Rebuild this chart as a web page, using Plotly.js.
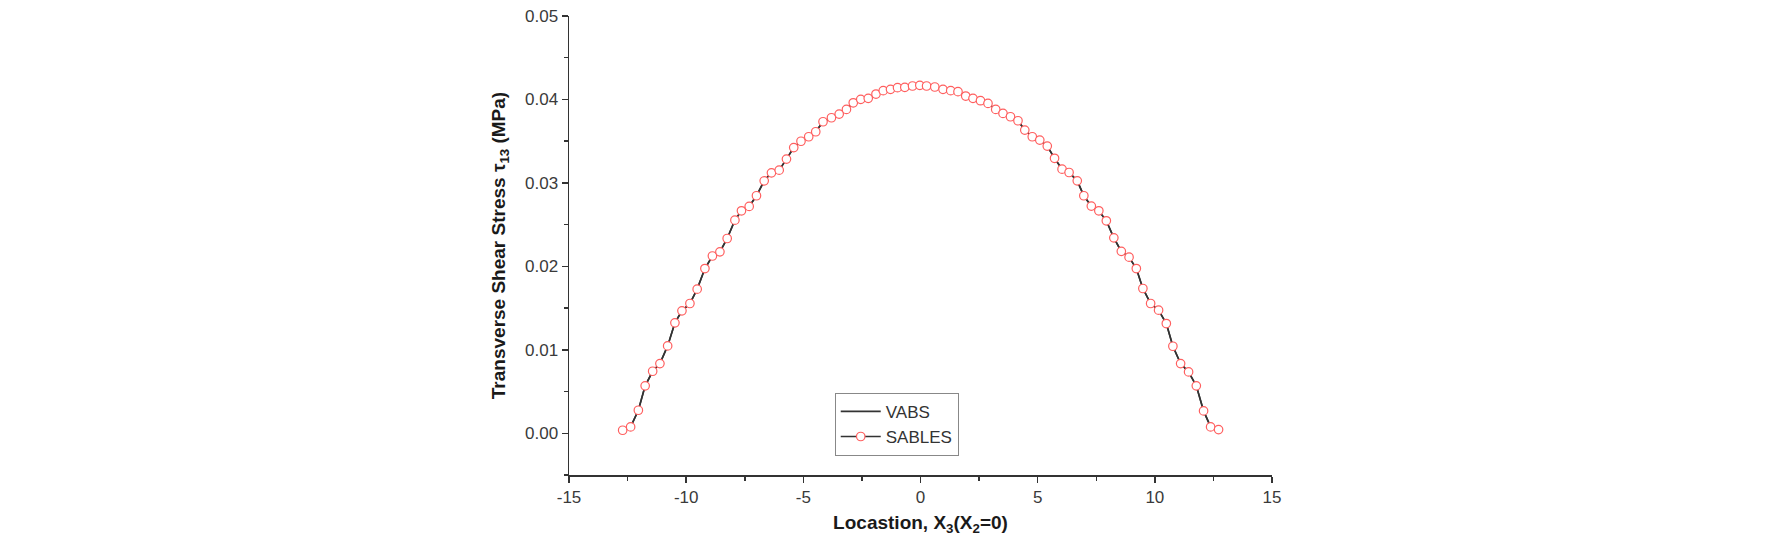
<!DOCTYPE html>
<html>
<head>
<meta charset="utf-8">
<script src="https://cdn.plot.ly/plotly-3.0.1.min.js"></script>
<style>html,body{margin:0;padding:0;background:#fff;}#chart{width:1772px;height:551px;}</style>
</head>
<body>
<div id="chart"></div>
<script>
const location_x = [-12.71,-12.37,-12.04,-11.75,-11.43,-11.12,-10.79,-10.48,-10.18,-9.84,-9.53,-9.20,-8.88,-8.56,-8.25,-7.92,-7.64,-7.31,-7.00,-6.67,-6.36,-6.03,-5.72,-5.41,-5.10,-4.77,-4.47,-4.16,-3.80,-3.47,-3.16,-2.87,-2.55,-2.23,-1.90,-1.59,-1.28,-0.98,-0.67,-0.34,-0.03,0.26,0.61,0.96,1.29,1.60,1.93,2.24,2.56,2.88,3.21,3.52,3.84,4.16,4.45,4.77,5.09,5.41,5.72,6.04,6.34,6.69,6.97,7.29,7.61,7.93,8.25,8.57,8.90,9.21,9.49,9.82,10.16,10.49,10.77,11.10,11.44,11.77,12.08,12.38,12.72];
const sables_stress = [0.00036,0.00076,0.00276,0.00568,0.00743,0.00835,0.01047,0.01323,0.01467,0.01555,0.01727,0.01974,0.02124,0.02174,0.02334,0.02554,0.02666,0.02718,0.02846,0.03025,0.03121,0.03153,0.03285,0.03423,0.03499,0.03553,0.03613,0.03733,0.03781,0.03825,0.03881,0.03960,0.04001,0.04013,0.04065,0.04105,0.04121,0.04141,0.04145,0.04161,0.04169,0.04161,0.04149,0.04121,0.04105,0.04093,0.04041,0.04013,0.03985,0.03953,0.03881,0.03833,0.03793,0.03745,0.03633,0.03553,0.03513,0.03441,0.03295,0.03165,0.03125,0.03025,0.02846,0.02722,0.02666,0.02546,0.02342,0.02180,0.02110,0.01974,0.01735,0.01555,0.01475,0.01315,0.01043,0.00835,0.00735,0.00568,0.00268,0.00076,0.00044];
const vabs_stress = sables_stress.slice();
const series_names = ['VABS', 'SABLES'];
const x_ticks = [-15,-10,-5,0,5,10,15];
const y_ticks = [0.00,0.01,0.02,0.03,0.04,0.05];

const axisFont = {family: 'Liberation Sans, Arial, sans-serif', size: 17, color: '#3a3a3a'};
const titleFont = {family: 'Liberation Sans, Arial, sans-serif', size: 19, color: '#1a1a1a', weight: 'bold'};

const traces = [
  {x: location_x, y: vabs_stress, name: series_names[0], mode: 'lines', type: 'scatter',
   line: {color: '#333', width: 1.6}},
  {x: location_x, y: sables_stress, name: series_names[1], mode: 'lines+markers', type: 'scatter',
   line: {color: '#333', width: 1.6},
   marker: {symbol: 'circle', size: 8.5, color: '#fff', line: {color: '#ff5f5f', width: 1.2}}}
];

const layout = {
  width: 1772, height: 551,
  margin: {l: 569, r: 500, t: 16, b: 76},
  paper_bgcolor: '#fff', plot_bgcolor: '#fff',
  showlegend: true,
  legend: {x: 0.378, y: 0.179, xanchor: 'left', yanchor: 'top',
    bordercolor: '#888', borderwidth: 1, bgcolor: '#fff',
    font: {family: 'Liberation Sans, Arial, sans-serif', size: 17, color: '#333'},
    tracegroupgap: 0, itemwidth: 40},
  xaxis: {
    range: [-15, 15], tickvals: x_ticks, ticktext: x_ticks.map(String),
    showgrid: false, zeroline: false, showline: true, linecolor: '#333', linewidth: 1.5,
    ticks: 'outside', ticklen: 6, tickwidth: 1.5, tickcolor: '#333',
    minor: {dtick: 2.5, ticks: 'outside', ticklen: 4, tickwidth: 1.5, tickcolor: '#333', showgrid: false},
    tickfont: axisFont,
    title: {text: 'Locastion, X<sub>3</sub>(X<sub>2</sub>=0)', font: titleFont, standoff: 10}
  },
  yaxis: {
    range: [-0.005, 0.05], tickvals: y_ticks, ticktext: y_ticks.map(v => v.toFixed(2)),
    showgrid: false, zeroline: false, showline: true, linecolor: '#333', linewidth: 1.5,
    ticks: 'outside', ticklen: 6, tickwidth: 1.5, tickcolor: '#333',
    minor: {dtick: 0.005, tick0: 0, ticks: 'outside', ticklen: 4, tickwidth: 1.5, tickcolor: '#333', showgrid: false},
    tickfont: axisFont,
    title: {text: 'Transverse Shear Stress τ<sub>13</sub> (MPa)', font: titleFont, standoff: 14}
  }
};

Plotly.newPlot('chart', traces, layout, {staticPlot: true, displayModeBar: false});
</script>
</body>
</html>
